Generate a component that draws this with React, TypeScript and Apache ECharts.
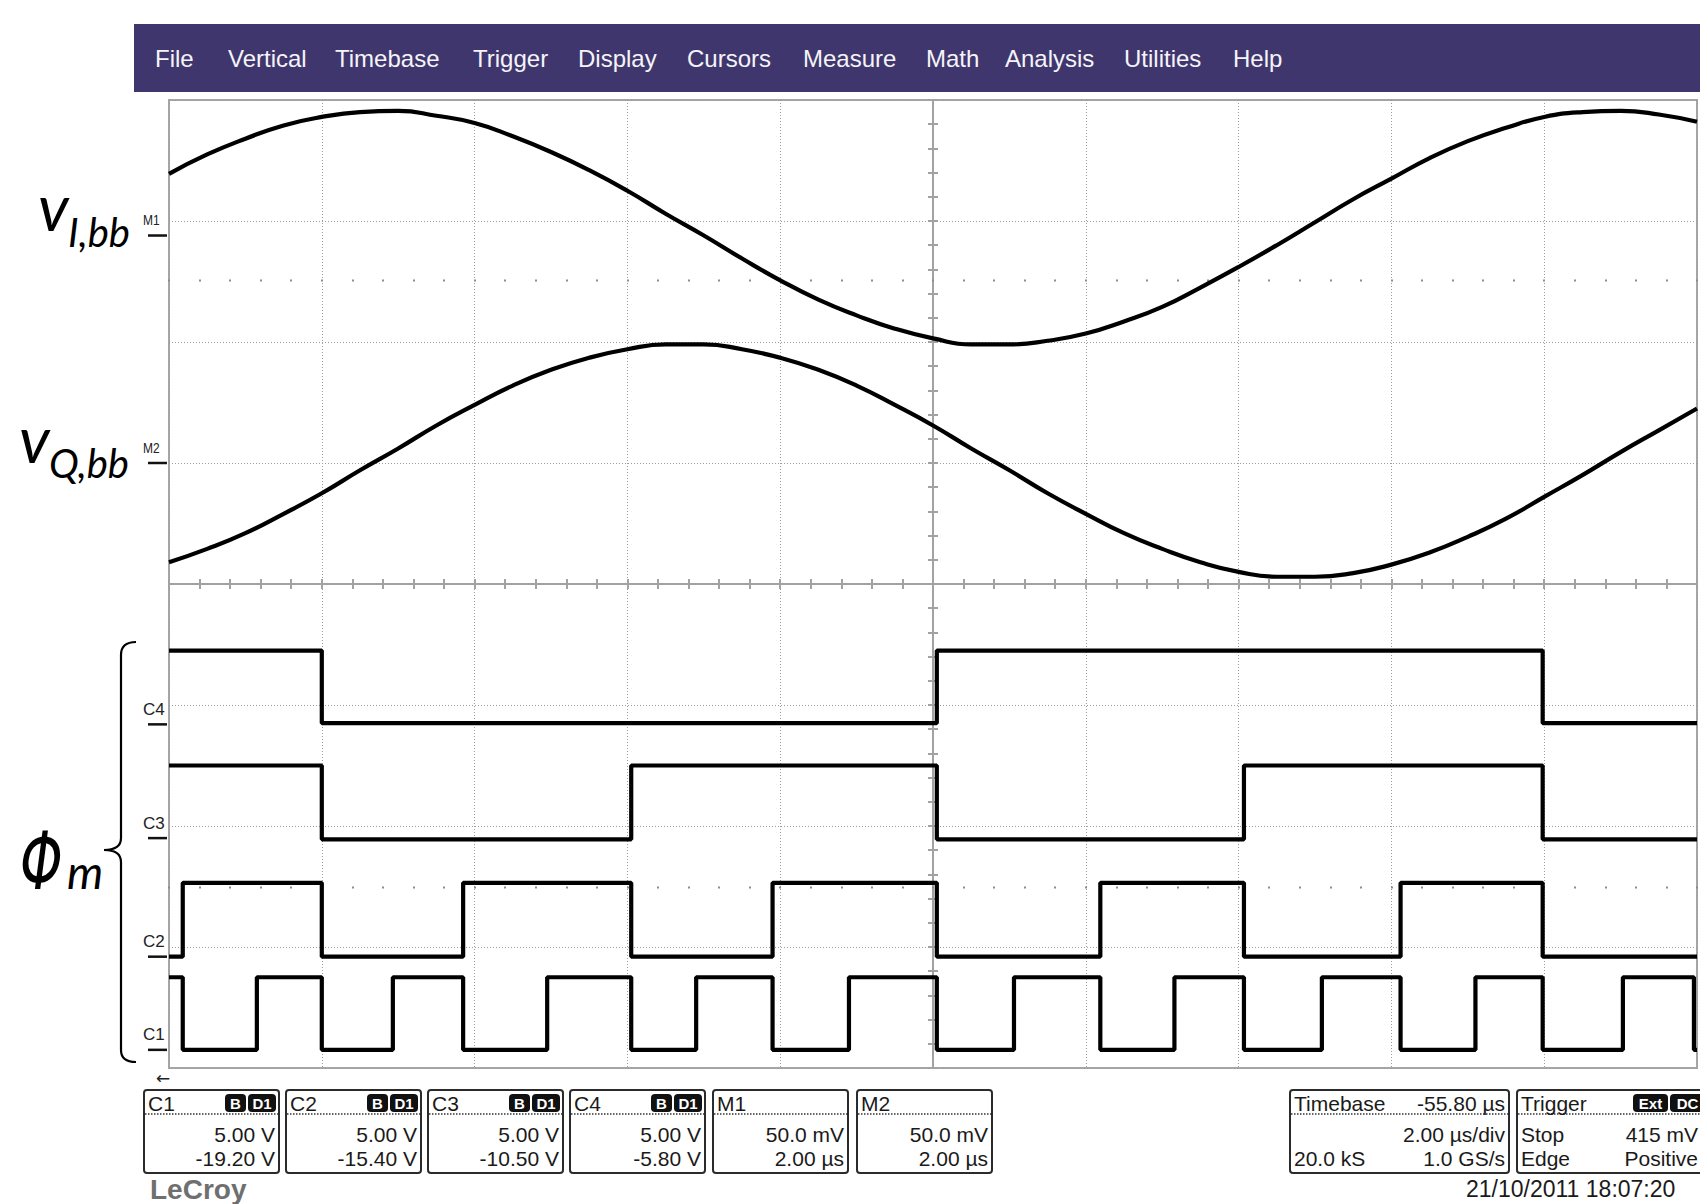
import React, { useEffect, useRef } from "react";
import * as echarts from "echarts";

// ---- time base: µs relative to screen centre, 2 µs/div over 10 divisions ----
const xMin = -10;
const xMax = 10;
const sampleTimes = [
  -10, -9.5, -9, -8.5, -8, -7.5, -7, -6.5, -6, -5.5, -5, -4.5, -4, -3.5, -3, -2.5, -2, -1.5, -1, -0.5,
  0, 0.5, 1, 1.5, 2, 2.5, 3, 3.5, 4, 4.5, 5, 5.5, 6, 6.5, 7, 7.5, 8, 8.5, 9, 9.5, 10,
];

// ---- baseband traces (screen divisions, +4 top / -4 bottom) ----
const vIbb = [
  3.39, 3.55, 3.68, 3.79, 3.86, 3.9, 3.91, 3.87, 3.81, 3.7, 3.57, 3.42, 3.25, 3.06, 2.88, 2.69, 2.51, 2.35, 2.22, 2.11,
  2.03, 1.98, 1.98, 2.01, 2.07, 2.17, 2.29, 2.45, 2.62, 2.8, 2.99, 3.18, 3.35, 3.52, 3.66, 3.77, 3.86, 3.9, 3.91, 3.88, 3.82,
];
const vQbb = [
  0.18, 0.29, 0.42, 0.58, 0.75, 0.94, 1.12, 1.31, 1.48, 1.64, 1.77, 1.87, 1.94, 1.98, 1.98, 1.94, 1.87, 1.77, 1.64, 1.48,
  1.31, 1.12, 0.94, 0.75, 0.58, 0.42, 0.29, 0.18, 0.1, 0.06, 0.06, 0.09, 0.16, 0.26, 0.39, 0.54, 0.72, 0.9, 1.09, 1.27, 1.45,
];

// ---- switching phases: edge times (µs) and [high, low] levels (div) ----
const c4Edges = [-8.0, 0.05, 7.98];
const c3Edges = [-8.0, -3.95, 0.05, 4.07, 7.98];
const c2Edges = [-9.82, -8.0, -6.15, -3.95, -2.1, 0.05, 2.19, 4.07, 6.12, 7.98];
const c1Edges = [
  -9.82, -8.85, -8.0, -7.07, -6.15, -5.05, -3.95, -3.1, -2.1, -1.1, 0.05, 1.06, 2.19, 3.16, 4.07, 5.09, 6.12, 7.1, 7.98,
  9.03, 9.96,
];
const c4Levels = [-0.55, -1.15];
const c3Levels = [-1.5, -2.11];
const c2Levels = [-2.47, -3.08];
const c1Levels = [-3.25, -3.85];
const c4StartsHigh = true;
const c3StartsHigh = true;
const c2StartsHigh = false;
const c1StartsHigh = true;

// ---- trace reference markers at the left edge ----
const markerNames = ["M1", "M2", "C4", "C3", "C2", "C1"];
const markerLevels = [2.88, 1.0, -1.16, -2.1, -3.08, -3.85];

// ---- menu bar ----
const menuItems = ["File", "Vertical", "Timebase", "Trigger", "Display", "Cursors", "Measure", "Math", "Analysis", "Utilities", "Help"];
const menuLeft = [155, 228, 335, 473, 578, 687, 803, 926, 1005, 1124, 1233];

// ---- channel descriptor boxes ----
const boxTitles = ["C1", "C2", "C3", "C4", "M1", "M2"];
const boxScales = ["5.00 V", "5.00 V", "5.00 V", "5.00 V", "50.0 mV", "50.0 mV"];
const boxOffsets = ["-19.20 V", "-15.40 V", "-10.50 V", "-5.80 V", "2.00 µs", "2.00 µs"];
const boxHasBadges = [true, true, true, true, false, false];
const boxLeft = [144, 286, 428, 570, 713, 857];

const timebaseTexts = ["Timebase", "-55.80 µs", "2.00 µs/div", "20.0 kS", "1.0 GS/s"];
const triggerTexts = ["Trigger", "Stop", "415 mV", "Edge", "Positive"];
const timestamp = "21/10/2011 18:07:20";

const SANS = '"Liberation Sans", Arial, sans-serif';
const HUMAN = 'Lato, "Open Sans", sans-serif';

echarts.graphic.registerShape(
  "phiBrace",
  echarts.graphic.extendPath(
    "M136 642 Q121 642 121 655 L121 838 Q121 850 104 850 Q121 850 121 862 L121 1050 Q121 1062 136 1062",
    {}
  )
);

function stepTrace(edges: number[], startHigh: boolean, levels: number[]): number[][] {
  const [hi, lo] = levels;
  let high = startHigh;
  const pts: number[][] = [[xMin, high ? hi : lo]];
  for (const e of edges) {
    pts.push([e, high ? hi : lo]);
    high = !high;
    pts.push([e, high ? hi : lo]);
  }
  pts.push([xMax, high ? hi : lo]);
  return pts;
}

function txt(
  x: number,
  y: number,
  text: string,
  size: number,
  opts: { align?: string; family?: string; weight?: string; italic?: boolean; fill?: string; scaleX?: number } = {}
): any {
  const align = opts.align || "left";
  return {
    type: "text",
    x,
    y,
    scaleX: opts.scaleX ?? 1,
    silent: true,
    z: 20,
    style: {
      text,
      fontSize: size,
      fontFamily: opts.family || SANS,
      fontWeight: opts.weight || "normal",
      fontStyle: opts.italic ? "italic" : "normal",
      fill: opts.fill || "#1a1a1a",
      align,
      verticalAlign: "middle",
      textAlign: align,
      textVerticalAlign: "middle",
    },
  };
}

function badges(right: number, labels: string[], widths: number[]): any[] {
  const out: any[] = [];
  let r = right - 3;
  for (let i = labels.length - 1; i >= 0; i--) {
    const w = widths[i];
    out.push({
      type: "rect",
      silent: true,
      z: 20,
      shape: { x: r - w, y: 1094, width: w, height: 18, r: 4 },
      style: { fill: "#111" },
    });
    out.push(txt(r - w / 2, 1103.5, labels[i], 15, { align: "center", weight: "bold", fill: "#fff" }));
    r -= w + 2;
  }
  return out;
}

function boxFrame(x: number, w: number): any[] {
  return [
    {
      type: "rect",
      silent: true,
      z: 18,
      shape: { x, y: 1090, width: w, height: 83, r: 3 },
      style: { fill: "#fff", stroke: "#2b2b2b", lineWidth: 2 },
    },
    {
      type: "line",
      silent: true,
      z: 19,
      shape: { x1: x + 1, y1: 1114, x2: x + w - 1, y2: 1114 },
      style: { stroke: "#333", lineWidth: 1.5, lineDash: [1.5, 1.5] },
    },
  ];
}

const gridLine = { color: "#9c9c9c", width: 1, type: [1, 2] as any };
const axisGrey = { color: "#a2a2a2", width: 2 };

export default function App() {
  const ref = useRef<HTMLDivElement>(null);

  useEffect(() => {
    const el = ref.current!;
    const chart = echarts.init(el, undefined, { renderer: "svg", width: 1700, height: 1204 });

    const trace = (data: number[][], smooth = false) => ({
      type: "line",
      data,
      xAxisIndex: 0,
      yAxisIndex: 0,
      showSymbol: false,
      symbol: "none",
      smooth,
      silent: true,
      z: 5,
      lineStyle: { color: "#000", width: 4.2 },
    });

    const hidden = { show: false };
    const centreX = (position: string) => ({
      type: "value",
      min: xMin,
      max: xMax,
      interval: 0.4,
      position,
      axisLine: { show: true, onZero: true, onZeroAxisIndex: 0, lineStyle: axisGrey },
      axisTick: { show: true, inside: false, length: 5, lineStyle: axisGrey },
      axisLabel: hidden,
      splitLine: hidden,
    });
    const centreY = (position: string) => ({
      type: "value",
      min: -4,
      max: 4,
      interval: 0.2,
      position,
      axisLine: { show: true, onZero: true, onZeroAxisIndex: 0, lineStyle: axisGrey },
      axisTick: { show: true, inside: false, length: 5, lineStyle: axisGrey },
      axisLabel: hidden,
      splitLine: hidden,
    });
    const dotRow = (position: string) => ({
      type: "value",
      min: xMin,
      max: xMax,
      interval: 0.4,
      position,
      offset: -181.5,
      axisLine: { show: false, onZero: false },
      axisTick: { show: true, length: 2, lineStyle: { color: "#8c8c8c", width: 2 } },
      axisLabel: hidden,
      splitLine: hidden,
    });

    chart.setOption({
      animation: false,
      backgroundColor: "#ffffff",
      grid: {
        left: 169,
        top: 100,
        width: 1528,
        height: 968,
        show: true,
        borderColor: "#a6a6a6",
        borderWidth: 2,
        backgroundColor: "#ffffff",
      },
      xAxis: [
        {
          type: "value",
          min: xMin,
          max: xMax,
          interval: 2,
          axisLine: { show: false, onZero: false },
          axisTick: hidden,
          axisLabel: hidden,
          splitLine: { show: true, lineStyle: gridLine },
        },
        centreX("bottom"),
        centreX("top"),
        dotRow("top"),
        dotRow("bottom"),
      ],
      yAxis: [
        {
          type: "value",
          min: -4,
          max: 4,
          interval: 1,
          axisLine: { show: false, onZero: false },
          axisTick: hidden,
          axisLabel: hidden,
          splitLine: { show: true, lineStyle: gridLine },
        },
        centreY("left"),
        centreY("right"),
      ],
      series: [
        trace(sampleTimes.map((t, i) => [t, vIbb[i]]), true),
        trace(sampleTimes.map((t, i) => [t, vQbb[i]]), true),
        trace(stepTrace(c4Edges, c4StartsHigh, c4Levels)),
        trace(stepTrace(c3Edges, c3StartsHigh, c3Levels)),
        trace(stepTrace(c2Edges, c2StartsHigh, c2Levels)),
        trace(stepTrace(c1Edges, c1StartsHigh, c1Levels)),
      ],
    });

    const els: any[] = [];

    // menu bar
    els.push({
      type: "rect",
      silent: true,
      z: 15,
      shape: { x: 134, y: 24, width: 1566, height: 68 },
      style: { fill: "#40366e" },
    });
    menuItems.forEach((m, i) => els.push(txt(menuLeft[i], 58, m, 24, { fill: "#f4f4f8" })));

    // trace names
    els.push(txt(38, 206, "v", 64, { family: HUMAN, italic: true, fill: "#000" }));
    els.push(txt(68, 232, "I,bb", 40, { family: HUMAN, italic: true, fill: "#000" }));
    els.push(txt(19, 438, "v", 64, { family: HUMAN, italic: true, fill: "#000" }));
    els.push(txt(49, 463, "Q,bb", 40, { family: HUMAN, italic: true, fill: "#000" }));
    els.push(txt(20, 862, "Φ", 80, { family: '"DejaVu Sans", "Open Sans", sans-serif', italic: true, fill: "#000", scaleX: 0.68 }));
    els.push(txt(67, 871, "m", 46, { family: HUMAN, italic: true, fill: "#000" }));
    els.push({ type: "phiBrace", silent: true, z: 20, style: { stroke: "#000", fill: "none", lineWidth: 2.2 } });

    // reference markers
    markerNames.forEach((name, i) => {
      const py = chart.convertToPixel({ xAxisIndex: 0, yAxisIndex: 0 }, [xMin, markerLevels[i]])[1];
      const small = name.startsWith("M");
      els.push(txt(143, py - 15, name, small ? 15 : 17, { fill: "#222", scaleX: small ? 0.8 : 1 }));
      els.push({
        type: "line",
        silent: true,
        z: 20,
        shape: { x1: 148, y1: py, x2: 167, y2: py },
        style: { stroke: "#111", lineWidth: 2.5 },
      });
    });

    // scroll arrow below the grid
    els.push(txt(156, 1078, "←", 17, { family: '"DejaVu Sans", sans-serif', fill: "#222" }));

    // channel boxes
    boxTitles.forEach((title, i) => {
      const x = boxLeft[i];
      const w = 135;
      els.push(...boxFrame(x, w));
      els.push(txt(x + 4, 1103, title, 21));
      if (boxHasBadges[i]) els.push(...badges(x + w, ["B", "D1"], [21, 28]));
      els.push(txt(x + w - 4, 1134, boxScales[i], 21, { align: "right" }));
      els.push(txt(x + w - 4, 1158, boxOffsets[i], 21, { align: "right" }));
    });

    // timebase box
    {
      const x = 1290;
      const w = 219;
      els.push(...boxFrame(x, w));
      els.push(txt(x + 4, 1103, timebaseTexts[0], 21));
      els.push(txt(x + w - 4, 1103, timebaseTexts[1], 21, { align: "right" }));
      els.push(txt(x + w - 4, 1134, timebaseTexts[2], 21, { align: "right" }));
      els.push(txt(x + 4, 1158, timebaseTexts[3], 21));
      els.push(txt(x + w - 4, 1158, timebaseTexts[4], 21, { align: "right" }));
    }

    // trigger box (its frame runs past the right edge)
    {
      const x = 1517;
      const w = 191;
      els.push(...boxFrame(x, w));
      els.push(txt(x + 4, 1103, triggerTexts[0], 21));
      els.push(...badges(x + w, ["Ext", "DC"], [35, 35]));
      els.push(txt(x + 4, 1134, triggerTexts[1], 21));
      els.push(txt(1698, 1134, triggerTexts[2], 21, { align: "right" }));
      els.push(txt(x + 4, 1158, triggerTexts[3], 21));
      els.push(txt(1698, 1158, triggerTexts[4], 21, { align: "right" }));
    }

    // brand and timestamp
    els.push(txt(150, 1189, "LeCroy", 28, { weight: "bold", fill: "#6f6f6f" }));
    els.push(txt(1466, 1189, timestamp, 23, { fill: "#1a1a1a" }));

    chart.setOption({ graphic: { elements: els } });

    return () => chart.dispose();
  }, []);

  return (
    <div
      ref={ref}
      style={{ position: "fixed", left: 0, top: 0, width: 1700, height: 1204, background: "#fff" }}
    />
  );
}
